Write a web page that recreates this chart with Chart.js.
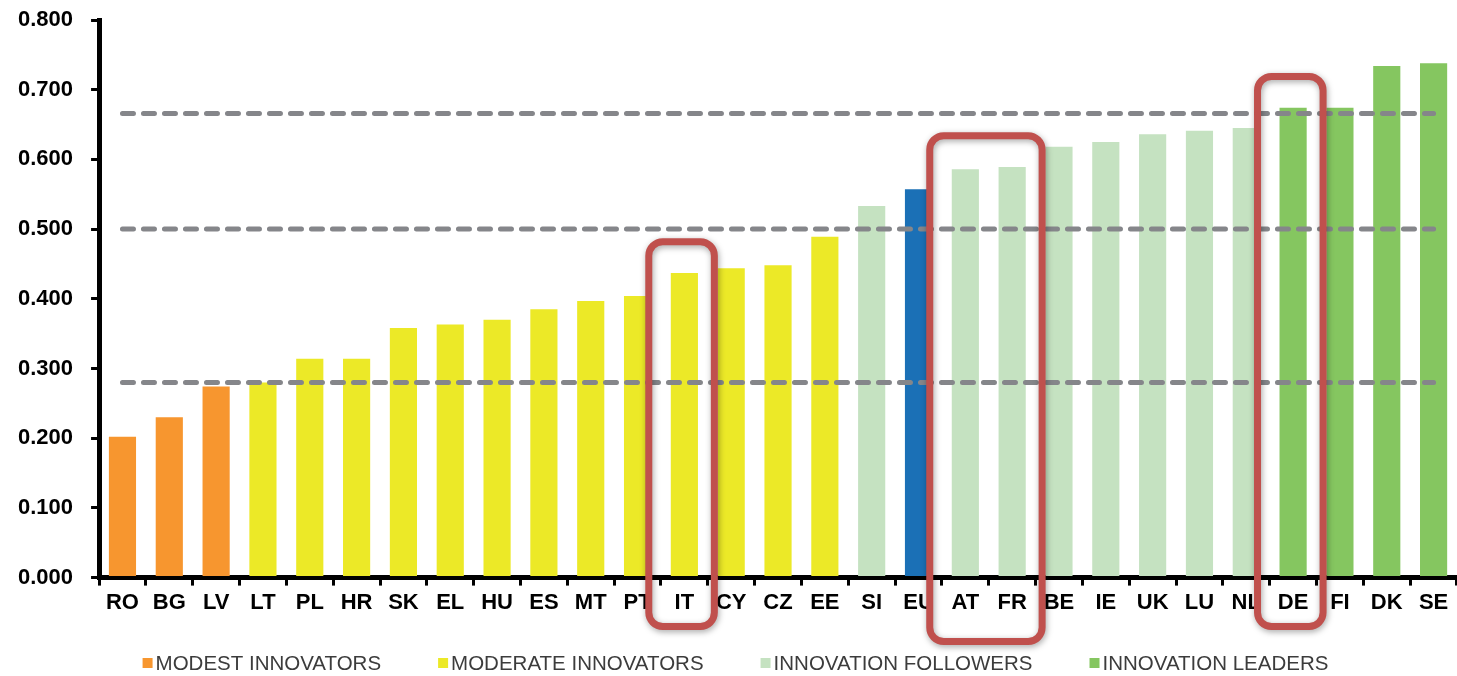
<!DOCTYPE html>
<html>
<head>
<meta charset="utf-8">
<script src="https://cdn.jsdelivr.net/npm/chart.js@4"></script>
<style>
  body { margin: 0; background: #fff; }
  #wrap { width: 1457px; height: 676px; position: relative; }
</style>
</head>
<body>
<div id="wrap"><canvas id="innovationChart"></canvas></div>
<script>
// Country codes, in chart order
const categories = ['RO', 'BG', 'LV', 'LT', 'PL', 'HR', 'SK', 'EL', 'HU', 'ES', 'MT', 'PT', 'IT', 'CY', 'CZ',
    'EE', 'SI', 'EU', 'AT', 'FR', 'BE', 'IE', 'UK', 'LU', 'NL', 'DE', 'FI', 'DK', 'SE'];

// Summary innovation index per country
const values = [0.202, 0.230, 0.274, 0.280, 0.314, 0.314, 0.358, 0.363, 0.370, 0.385, 0.397, 0.404, 0.437, 0.444, 0.448,
    0.489, 0.533, 0.557, 0.586, 0.589, 0.618, 0.625, 0.636, 0.641, 0.645, 0.674, 0.674, 0.734, 0.738];

// Performance group of each country
const groups = ['modest', 'modest', 'modest', 'moderate', 'moderate', 'moderate', 'moderate', 'moderate', 'moderate',
    'moderate', 'moderate', 'moderate', 'moderate', 'moderate', 'moderate', 'moderate', 'follower', 'eu', 'follower',
    'follower', 'follower', 'follower', 'follower', 'follower', 'follower', 'leader', 'leader', 'leader', 'leader'];

const groupKeys = ['modest', 'moderate', 'follower', 'leader', 'eu'];
const groupLabels = ['MODEST INNOVATORS', 'MODERATE INNOVATORS', 'INNOVATION FOLLOWERS', 'INNOVATION LEADERS', 'EU'];
const groupColors = ['#f7962f', '#ece927', '#c5e2c1', '#85c660', '#1b70b6'];

// Group thresholds (dashed lines)
const thresholds = [0.280, 0.500, 0.666];

// Highlighted countries (red frames)
const highlights = [['IT'], ['AT', 'FR'], ['DE']];

const yTicks = [0, 0.1, 0.2, 0.3, 0.4, 0.5, 0.6, 0.7, 0.8];

// One dataset per group so every bar keeps its own colour
const datasets = groupKeys.map((key, i) => ({
    label: groupLabels[i],
    data: values.map((v, j) => groups[j] === key ? v : null),
    backgroundColor: groupColors[i],
    borderWidth: 0,
    barPercentage: 0.58,
    categoryPercentage: 1,
    grouped: false
}));

// Dashed threshold lines over the bars
const thresholdLines = {
    id: 'thresholdLines',
    afterDatasetsDraw(chart) {
        const { ctx, scales: { x, y } } = chart;
        const x0 = x.getPixelForValue(0);
        const x1 = x.getPixelForValue(categories.length - 1);
        ctx.save();
        ctx.strokeStyle = '#85868a';
        ctx.lineWidth = 5;
        ctx.lineCap = 'round';
        ctx.setLineDash([11, 10]);
        thresholds.forEach(t => {
            const py = y.getPixelForValue(t);
            ctx.beginPath();
            ctx.moveTo(x0, py);
            ctx.lineTo(x1, py);
            ctx.stroke();
        });
        ctx.restore();
    }
};

// Red rounded frames around highlighted countries
const highlightFrames = {
    id: 'highlightFrames',
    afterDraw(chart) {
        const { ctx, scales: { x, y } } = chart;
        const step = x.getPixelForValue(1) - x.getPixelForValue(0);
        ctx.save();
        ctx.strokeStyle = '#c0504d';
        ctx.lineWidth = 7;
        ctx.shadowColor = 'rgba(0, 0, 0, 0.35)';
        ctx.shadowBlur = 6;
        ctx.shadowOffsetX = 1;
        ctx.shadowOffsetY = 2;
        highlights.forEach(codes => {
            const idx = codes.map(c => categories.indexOf(c));
            const top = Math.max(...idx.map(i => values[i]));
            const left = x.getPixelForValue(idx[0]) - step * 0.76;
            const right = x.getPixelForValue(idx[idx.length - 1]) + step * 0.64;
            const yTop = y.getPixelForValue(top + 0.045);
            const yBottom = y.getPixelForValue(0) + (codes.length > 1 ? 64 : 49);
            ctx.beginPath();
            ctx.roundRect(left, yTop, right - left, yBottom - yTop, 14);
            ctx.stroke();
        });
        ctx.restore();
    }
};

// Legend row under the axis (EU is left out)
const bottomLegend = {
    id: 'bottomLegend',
    afterDraw(chart) {
        const { ctx } = chart;
        const gap = 57;
        const box = 10;
        ctx.save();
        ctx.font = '20.5px "Liberation Sans", Arial, sans-serif';
        ctx.textBaseline = 'middle';
        const items = groupLabels.slice(0, 4);
        const widths = items.map(t => box + 3 + ctx.measureText(t).width);
        const total = widths.reduce((a, b) => a + b, 0) + gap * (items.length - 1);
        let cx = chart.width / 2 + 7 - total / 2;
        const cy = chart.height - 13;
        items.forEach((t, i) => {
            ctx.fillStyle = groupColors[i];
            ctx.fillRect(cx, cy - box / 2, box, box);
            ctx.fillStyle = '#3c3c3c';
            ctx.fillText(t, cx + box + 3, cy + 1);
            cx += widths[i] + gap;
        });
        ctx.restore();
    }
};

function initializeChart() {
    const ctx = document.getElementById('innovationChart');

    new Chart(ctx, {
        type: 'bar',
        data: {
            labels: categories,
            datasets: datasets
        },
        options: {
            responsive: true,
            maintainAspectRatio: false,
            animation: false,
            layout: {
                padding: { top: 20, left: 0, right: 0, bottom: 56 }
            },
            plugins: {
                legend: { display: false },
                tooltip: { enabled: false }
            },
            scales: {
                x: {
                    grid: {
                        drawOnChartArea: false,
                        offset: true,
                        tickLength: 8,
                        lineWidth: 3,
                        color: '#000'
                    },
                    border: { color: '#000', width: 5 },
                    ticks: {
                        color: '#000',
                        padding: 4,
                        autoSkip: false,
                        maxRotation: 0,
                        font: { family: '"Liberation Sans", Arial, sans-serif', size: 22, weight: 'bold' }
                    }
                },
                y: {
                    min: 0,
                    max: 0.8,
                    afterBuildTicks: axis => {
                        axis.ticks = yTicks.map(v => ({ value: v }));
                    },
                    afterFit: axis => {
                        axis.paddingTop = 0;
                    },
                    grid: {
                        drawOnChartArea: false,
                        tickLength: 8,
                        lineWidth: 3,
                        color: '#000'
                    },
                    border: { color: '#000', width: 5 },
                    ticks: {
                        color: '#000',
                        padding: 18,
                        callback: v => Number(v).toFixed(3),
                        font: { family: '"Liberation Sans", Arial, sans-serif', size: 22, weight: 'bold' }
                    }
                }
            }
        },
        plugins: [thresholdLines, highlightFrames, bottomLegend]
    });
}

document.addEventListener('DOMContentLoaded', initializeChart);
</script>
</body>
</html>
